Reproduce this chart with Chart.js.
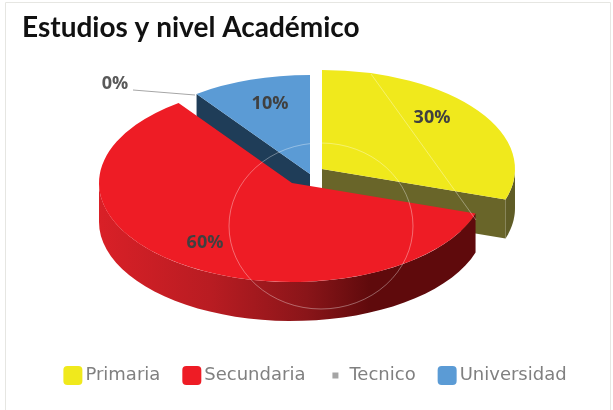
<!DOCTYPE html>
<html><head><meta charset="utf-8">
<style>
html,body{margin:0;padding:0;background:#fff;width:613px;height:410px;overflow:hidden}
#c{display:block;filter:blur(0.45px)}
</style>
<script src="https://cdn.jsdelivr.net/npm/chart.js@4/dist/chart.umd.min.js"></script>
</head><body>
<canvas id="c" width="613" height="410"></canvas>
<script>
const categories = ['Primaria','Secundaria','Tecnico','Universidad'];
const values = [30,60,0,10];
const colors = ['#f0e91c','#ee1c25','#a5a5a5','#5b9bd5'];
const titleText = 'Estudios y nivel Académico';

const K = 0.513, DEPTH = 39, CX = 310, CY = 174;
const shifts = [[12,-5],[-18,9],[0,0],[0,0]];
const labelPos = [[432,118],[205,243],[115,84],[270,104]];
const labelCol = ['#404040','#404040','#595959','#404040'];

const pie3d = {
  id:'pie3d',
  beforeDatasetsDraw(chart){
    const ctx = chart.ctx, arcs = chart.getDatasetMeta(0).data;
    const setT = (el,i,z=0)=>{
      ctx.setTransform(1,0,0,1,0,0);
      ctx.translate(CX+shifts[i][0], CY+shifts[i][1]+z);
      ctx.scale(1,K);
      ctx.translate(-el.x,-el.y);
    };
    const wall=(el,i,a0,a1,fill)=>{
      const r=el.outerRadius, n=40;
      const S=(a,z)=>[CX+shifts[i][0]+r*Math.cos(a), CY+shifts[i][1]+K*r*Math.sin(a)+z];
      ctx.setTransform(1,0,0,1,0,0);
      ctx.beginPath();
      for(let j=0;j<=n;j++){const p=S(a0+(a1-a0)*j/n,0); j?ctx.lineTo(p[0],p[1]):ctx.moveTo(p[0],p[1]);}
      for(let j=n;j>=0;j--){const p=S(a0+(a1-a0)*j/n,DEPTH); ctx.lineTo(p[0],p[1]);}
      ctx.closePath(); ctx.fillStyle=fill; ctx.fill();
    };
    const cut=(el,i,a,fill)=>{
      const r=el.outerRadius, x0=CX+shifts[i][0], y0=CY+shifts[i][1];
      const x1=x0+r*Math.cos(a), y1=y0+K*r*Math.sin(a);
      ctx.setTransform(1,0,0,1,0,0);
      ctx.beginPath(); ctx.moveTo(x0,y0); ctx.lineTo(x1,y1); ctx.lineTo(x1,y1+DEPTH); ctx.lineTo(x0,y0+DEPTH); ctx.closePath();
      ctx.fillStyle=fill; ctx.fill();
    };
    ctx.save();
    let el=arcs[0];
    cut(el,0,el.endAngle,'#696529');
    wall(el,0,0,el.endAngle,'#5f5c26');
    setT(el,0); el.draw(ctx);
    el=arcs[3];
    cut(el,3,el.startAngle,'#1f3d58');
    setT(el,3); el.draw(ctx);
    el=arcs[1];
    const g=ctx.createLinearGradient(99,0,476,0);
    g.addColorStop(0,'#d92027'); g.addColorStop(0.3,'#b81c22'); g.addColorStop(0.55,'#8a1519');
    g.addColorStop(0.72,'#5f0a0c'); g.addColorStop(1,'#5f0a0c');
    wall(el,1,el.startAngle,Math.PI,g);
    setT(el,1); el.draw(ctx);
    ctx.setTransform(1,0,0,1,0,0);
    ctx.restore();
    return false;
  },
  afterDraw(chart){
    const ctx=chart.ctx;
    ctx.save();
    // panel edge
    ctx.strokeStyle='#e6e6e2'; ctx.lineWidth=1;
    ctx.beginPath(); ctx.moveTo(5.5,410); ctx.lineTo(5.5,2.5); ctx.lineTo(610.5,2.5); ctx.lineTo(610.5,410); ctx.stroke();
    // faint scan artefacts
    ctx.strokeStyle='rgba(255,255,255,0.5)'; ctx.lineWidth=0.7;
    ctx.beginPath(); ctx.ellipse(321,226,92,83,0,0,Math.PI*2); ctx.stroke();
    ctx.beginPath(); ctx.moveTo(371,74); ctx.quadraticCurveTo(415,135,476,220); ctx.stroke();
    // leader
    ctx.strokeStyle='#a6a6a6'; ctx.lineWidth=1;
    ctx.beginPath(); ctx.moveTo(133,90); ctx.lineTo(195,95); ctx.stroke();
    // data labels
    const total=values.reduce((a,b)=>a+b,0);
    ctx.font='bold 18px "Open Sans"'; ctx.textAlign='center'; ctx.textBaseline='middle';
    values.forEach((v,i)=>{
      ctx.fillStyle=labelCol[i];
      ctx.fillText(Math.round(v/total*100)+'%',labelPos[i][0],labelPos[i][1]);
    });
    // legend swatches
    const boxes=chart.legend.legendHitBoxes;
    boxes.forEach((b,i)=>{
      const cy=b.top+b.height/2;
      ctx.fillStyle=colors[i];
      ctx.beginPath();
      if(i===2){ ctx.rect(b.left+5,cy-3,6,6); }
      else { ctx.roundRect(b.left,cy-9.5,19,19,4); }
      ctx.fill();
    });
    ctx.restore();
  }
};

new Chart(document.getElementById('c'),{
  type:'pie',
  plugins:[pie3d],
  data:{labels:categories,datasets:[{data:values,backgroundColor:colors,borderWidth:0}]},
  options:{
    responsive:false,animation:false,
    radius:193,
    layout:{padding:{left:22,right:5,top:0,bottom:15}},
    events:[],
    plugins:{
      tooltip:{enabled:false},
      title:{display:true,text:titleText,align:'start',color:'#111',
        font:{family:'Lato',weight:'bold',size:28},padding:{top:11,bottom:10}},
      legend:{position:'bottom',
        labels:{boxWidth:13,boxHeight:19,padding:22,color:'#808080',
          font:{family:'"DejaVu Sans"',size:18},
          generateLabels:(chart)=>categories.map((t,i)=>({text:t,fontColor:'#808080',fillStyle:'rgba(0,0,0,0)',strokeStyle:'rgba(0,0,0,0)',lineWidth:0,index:i}))
        }}
    }
  }
});
</script>
</body></html>
